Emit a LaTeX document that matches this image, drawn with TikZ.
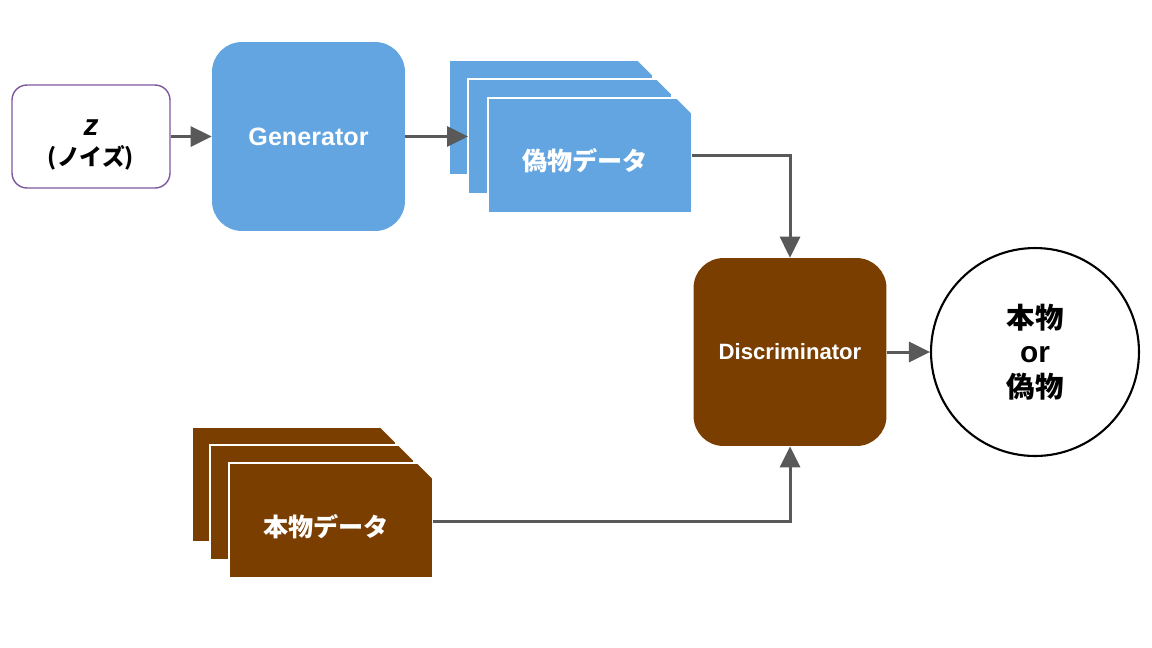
\documentclass[tikz,border=0pt]{standalone}
\usepackage{fontspec}
\setmainfont{Liberation Sans}
\newfontfamily\jpfont{Noto Sans CJK JP}
\usetikzlibrary{arrows.meta}

\definecolor{genblue}{HTML}{62A5E0}
\definecolor{discbrown}{HTML}{7A3E00}
\definecolor{arrowgray}{HTML}{595959}
\definecolor{noisepurple}{HTML}{7E57A0}

% one data sheet with a cut corner: x, y (top left), colour
\newcommand{\datacard}[3]{%
  \filldraw[fill=#3, draw=white, line width=1pt]
    (#1,#2) -- ++(189,0) -- ++(15,15) -- ++(0,100) -- ++(-204,0) -- cycle;}
% label text, nudged a little left inside its sheet
\newcommand{\cardtext}[1]{\hspace*{-5.6pt}#1}

\begin{document}
\begin{tikzpicture}[x=0.02cm, y=-0.02cm, font=\bfseries,
    netbox/.style={rounded corners=0.6cm, minimum width=3.86cm, minimum height=3.78cm, text=white},
    cardlabel/.style={minimum width=4.08cm, minimum height=2.3cm, text height=18pt, text depth=1.5pt, text=white,
                      font=\jpfont\bfseries\fontsize{14.3}{16}\selectfont},
    arr/.style={draw=arrowgray, line width=1.7pt, -{Triangle[length=0.42cm, width=0.4cm]}}]
  \useasboundingbox (0,0) rectangle (1152,647);

  % noise input
  \node[draw=noisepurple, line width=0.8pt, rounded corners=0.3cm, minimum width=3.16cm, minimum height=2.06cm,
        align=center, font=\bfseries\fontsize{17}{17}\selectfont] (noise) at (91,136.5)
    {\rule{0pt}{19pt}\textit{z}\\{\jpfont\fontsize{13}{17}\selectfont (ノイズ)}};

  % generator
  \node[netbox, fill=genblue, font=\bfseries\fontsize{14.3}{16}\selectfont] (gen) at (308.5,136.5) {Generator};

  % fake data
  \datacard{449}{60}{genblue}
  \datacard{468}{79}{genblue}
  \datacard{488}{98}{genblue}
  \coordinate (fake2) at (468,136);
  \node[cardlabel] (fake) at (590,155.5) {\cardtext{偽物データ}};

  % real data
  \datacard{192}{427}{discbrown}
  \datacard{210}{445}{discbrown}
  \datacard{229}{463}{discbrown}
  \node[cardlabel] (real) at (331,521.5) {\cardtext{本物データ}};

  % discriminator
  \node[netbox, fill=discbrown, minimum height=3.76cm, font=\bfseries\fontsize{12.6}{15}\selectfont] (disc) at (790,352) {Discriminator};

  % output
  \node[circle, draw, line width=1.2pt, minimum size=4.16cm, align=center,
        font=\jpfont\bfseries\fontsize{16.2}{19.5}\selectfont] (judge) at (1035,352)
    {本物\\{\rmfamily\fontsize{17}{19.5}\selectfont or}\\偽物};

  \draw[arr] (noise) -- (gen);
  \draw[arr] (gen.east) -- (gen.east -| fake2);
  \draw[arr] (fake.east) -| (disc.north);
  \draw[arr] (real.east) -| (disc.south);
  \draw[arr] (disc) -- (judge);
\end{tikzpicture}
\end{document}
